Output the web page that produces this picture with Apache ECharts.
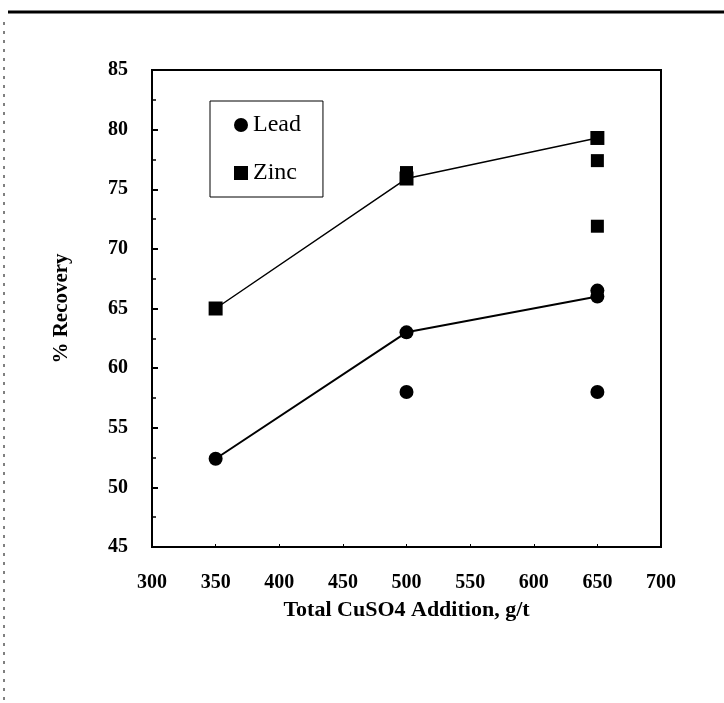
<!DOCTYPE html>
<html>
<head>
<meta charset="utf-8">
<script src="https://cdn.jsdelivr.net/npm/echarts@6/dist/echarts.min.js"></script>
<style>
html,body{margin:0;padding:0;background:#fff;}
#chart{width:724px;height:703px;}
</style>
</head>
<body>
<div id="chart"></div>
<script>
const xTicks = [300, 350, 400, 450, 500, 550, 600, 650, 700];
const yTicks = [45, 50, 55, 60, 65, 70, 75, 80, 85];
const xValues = [350, 500, 650];
const leadLine = [52.4, 63.0, 66.0];
const zincLine = [65.0, 75.9, 79.3];
const leadExtraX = [500, 650, 650];
const leadExtraY = [58.0, 58.0, 66.5];
const zincExtraX = [500, 650, 650];
const zincExtraY = [76.4, 77.4, 71.9];

const serif = '"Liberation Serif", "DejaVu Serif", serif';
const chart = echarts.init(document.getElementById('chart'));

const pair = (xs, ys) => xs.map((x, i) => [x, ys[i]]);

chart.setOption({
  backgroundColor: '#fff',
  animation: false,
  grid: {
    left: 152, right: 63, top: 70, bottom: 156,
    show: true, borderColor: '#000', borderWidth: 2
  },
  legend: {
    orient: 'vertical',
    left: 210, top: 101,
    padding: [12, 22, 12, 24],
    itemGap: 24,
    itemWidth: 14, itemHeight: 14,
    borderColor: '#000', borderWidth: 1,
    textStyle: { fontFamily: serif, fontSize: 24, color: '#000' },
    data: [
      { name: 'Lead', icon: 'circle' },
      { name: 'Zinc', icon: 'rect' }
    ]
  },
  xAxis: {
    type: 'value',
    min: xTicks[0], max: xTicks[xTicks.length - 1], interval: 50,
    name: 'Total CuSO4 Addition, g/t',
    nameLocation: 'middle', nameGap: 52,
    nameTextStyle: { fontFamily: serif, fontSize: 22, fontWeight: 'bold', color: '#000' },
    axisLine: { lineStyle: { color: '#000', width: 2 } },
    axisTick: { inside: true, length: 3, lineStyle: { color: '#000' } },
    axisLabel: { fontFamily: serif, fontSize: 20, fontWeight: 'bold', color: '#000', margin: 26 },
    splitLine: { show: false }
  },
  yAxis: {
    type: 'value',
    min: yTicks[0], max: yTicks[yTicks.length - 1], interval: 5,
    name: '% Recovery',
    nameLocation: 'middle', nameGap: 80, nameRotate: 90,
    nameTextStyle: { fontFamily: serif, fontSize: 21, fontWeight: 'bold', color: '#000' },
    axisLine: { lineStyle: { color: '#000', width: 2 } },
    axisTick: { inside: true, length: 6, lineStyle: { color: '#000', width: 2 } },
    minorTick: { show: true, splitNumber: 2, length: 4, lineStyle: { color: '#000', width: 1.5 } },
    axisLabel: { fontFamily: serif, fontSize: 20, fontWeight: 'bold', color: '#000', margin: 24 },
    splitLine: { show: false }
  },
  series: [
    {
      name: 'Lead', type: 'line', data: pair(xValues, leadLine),
      symbol: 'circle', symbolSize: 14,
      lineStyle: { color: '#000', width: 2 },
      itemStyle: { color: '#000', opacity: 1 }
    },
    {
      name: 'Lead', type: 'scatter', data: pair(leadExtraX, leadExtraY),
      symbol: 'circle', symbolSize: 14,
      itemStyle: { color: '#000', opacity: 1 }
    },
    {
      name: 'Zinc', type: 'line', data: pair(xValues, zincLine),
      symbol: 'rect', symbolSize: 14,
      lineStyle: { color: '#000', width: 1.5 },
      itemStyle: { color: '#000', opacity: 1 }
    },
    {
      name: 'Zinc', type: 'scatter', data: pair(zincExtraX, zincExtraY),
      symbol: 'rect', symbolSize: 13,
      itemStyle: { color: '#000', opacity: 1 }
    }
  ],
  graphic: [
    { type: 'line', shape: { x1: 8, y1: 12, x2: 724, y2: 12 }, style: { stroke: '#000', lineWidth: 3 } },
    { type: 'line', shape: { x1: 4, y1: 22, x2: 4, y2: 703 }, style: { stroke: '#000', lineWidth: 1, lineDash: [3, 6] } }
  ]
});
</script>
</body>
</html>
